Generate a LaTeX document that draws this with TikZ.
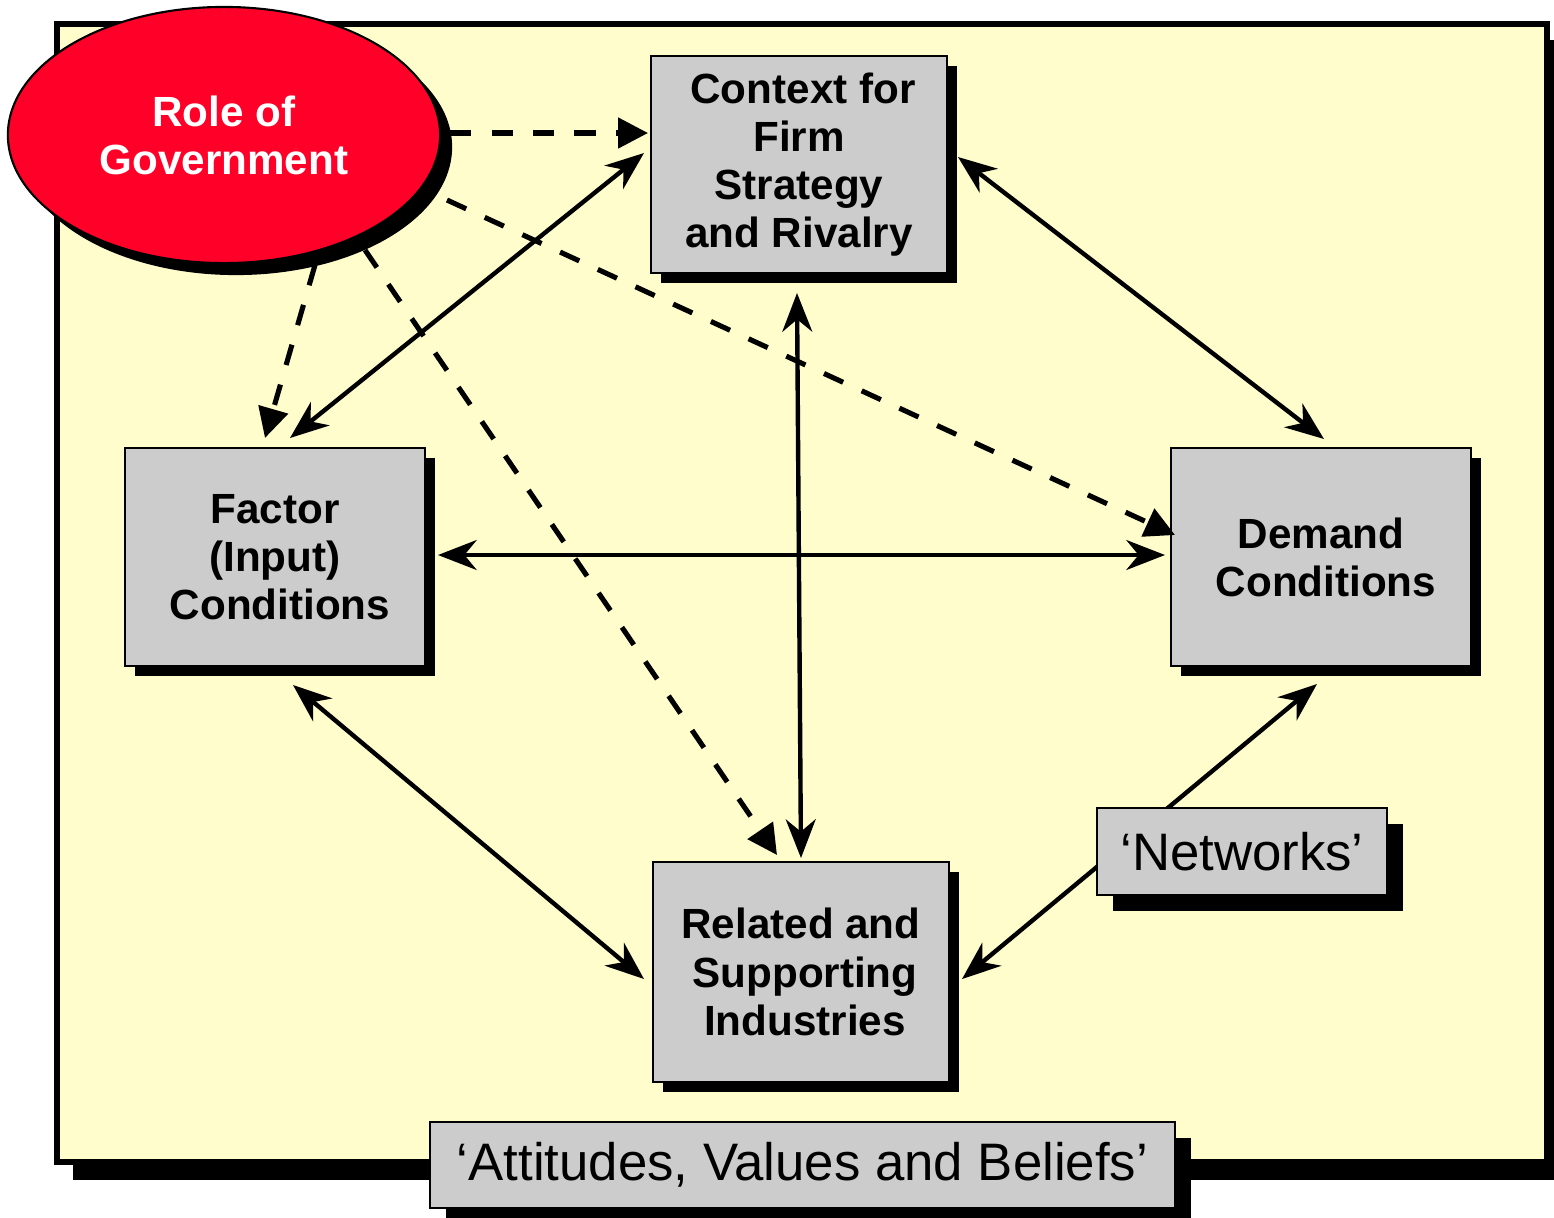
\documentclass[tikz,border=0pt]{standalone}
\usepackage{fontspec}
\setmainfont{Liberation Sans}
\usetikzlibrary{arrows.meta,shapes.geometric,shadows}
\definecolor{bgyellow}{RGB}{255,253,204}
\definecolor{boxgray}{RGB}{204,204,204}
\definecolor{govred}{RGB}{255,0,41}
\begin{document}
\begin{tikzpicture}[x=0.01cm,y=-0.01cm,
  shadowA/.style={drop shadow={shadow xshift=0.10cm,shadow yshift=-0.10cm,opacity=1,fill=black}},
  shadowB/.style={drop shadow={shadow xshift=0.16cm,shadow yshift=-0.16cm,opacity=1,fill=black}},
  mainbox/.style={draw,line width=0.6pt,fill=boxgray,inner sep=0pt,align=center,
    font=\fontsize{12}{13.7}\selectfont\bfseries,shadowA},
  quotebox/.style={draw,line width=0.6pt,fill=boxgray,inner sep=0pt,align=center,
    font=\fontsize{15}{18}\selectfont,shadowB},
  solidarrow/.style={line width=1.25pt,
    {Stealth[length=11pt,width=8.5pt,inset=3.5pt]}-{Stealth[length=11pt,width=8.5pt,inset=3.5pt]}},
  dasharrow/.style={line width=1.45pt,dash pattern=on 6pt off 5.8pt,
    -{Triangle[length=8.5pt,width=8.5pt]}}]
\useasboundingbox (0,0) rectangle (1554,1217);
% outer frame with shadow
\fill[black] (73,40) rectangle (1554,1180);
\draw[line width=1.7pt,fill=bgyellow] (57,24) rectangle (1547,1162);
% nodes
\node[ellipse,draw,line width=0.6pt,fill=govred,minimum width=4.32cm,minimum height=2.56cm,inner sep=0pt,
  text=white,align=center,font=\fontsize{12}{13.7}\selectfont\bfseries,
  drop shadow={shadow xshift=0.12cm,shadow yshift=-0.12cm,opacity=1,fill=black}]
  (gov) at (224,135) {Role of\\Government};
\node[mainbox,minimum width=2.96cm,minimum height=2.17cm] (ctx) at (799,164.5)
  {\hspace*{0.08cm}Context for\\Firm\\Strategy\\and Rivalry};
\node[mainbox,minimum width=3.00cm,minimum height=2.18cm] (fac) at (275,557)
  {Factor\\(Input)\\\hspace*{0.1cm}Conditions};
\node[mainbox,minimum width=3.00cm,minimum height=2.18cm] (dem) at (1321,557)
  {Demand\\\hspace*{0.1cm}Conditions};
\node[mainbox,minimum width=2.96cm,minimum height=2.20cm] (rel) at (801,972)
  {Related and\\\hspace*{0.08cm}Supporting\\\hspace*{0.08cm}Industries};
% dashed arrows from government
\draw[dasharrow] ([shift={(226,-2)}]gov.center) -- ([shift={(-151,-31.5)}]ctx.center);
\draw[dasharrow] ([shift={(223,65)}]gov.center) -- ([shift={(-146,-22)}]dem.center);
\draw[dasharrow] ([shift={(91,130)}]gov.center) -- ([shift={(-10,-119)}]fac.center);
\draw[dasharrow] ([shift={(141,115)}]gov.center) -- ([shift={(-24,-117)}]rel.center);
% solid double arrows
\draw[solidarrow] ([shift={(-155,-11.5)}]ctx.center) -- ([shift={(15,-119)}]fac.center);
\draw[solidarrow] ([shift={(159,-7.5)}]ctx.center) -- ([shift={(3,-118)}]dem.center);
\draw[solidarrow] ([shift={(-2,128.5)}]ctx.center) -- ([shift={(0,-114)}]rel.center);
\draw[solidarrow] ([shift={(163,-2)}]fac.center) -- ([shift={(-156,-2)}]dem.center);
\draw[solidarrow] ([shift={(18,128)}]fac.center) -- ([shift={(-157,7)}]rel.center);
\draw[solidarrow] ([shift={(-4,127)}]dem.center) -- ([shift={(161,7)}]rel.center);
% label boxes on top
\node[quotebox,minimum width=2.90cm,minimum height=0.87cm] (net) at (1242,851.5) {‘Networks’};
\node[quotebox,minimum width=7.45cm,minimum height=0.86cm] (att) at (802.5,1165) {‘Attitudes, Values and Beliefs’};
\end{tikzpicture}
\end{document}
